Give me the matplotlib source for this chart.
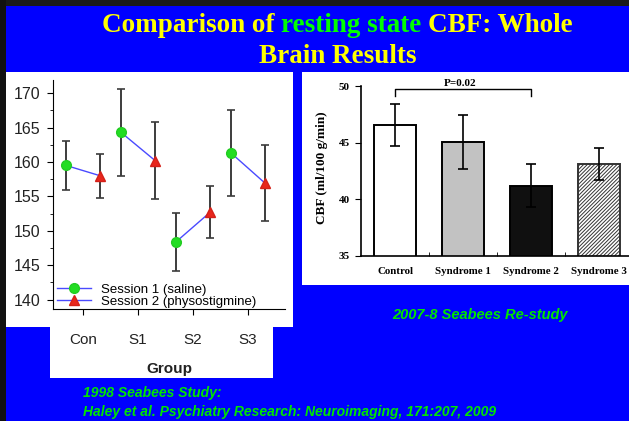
import matplotlib
matplotlib.use("Agg")
import matplotlib.pyplot as plt
from matplotlib.patches import Rectangle
from matplotlib.lines import Line2D
from matplotlib.ticker import MultipleLocator, FixedLocator

# 1998 study: group means (+/- error) for the two sessions
groups = ["Con", "S1", "S2", "S3"]
saline_mean = [159.5, 164.3, 148.4, 161.3]
saline_err = [3.5, 6.3, 4.2, 6.2]
physo_mean = [158.0, 160.2, 152.7, 156.9]
physo_err = [3.2, 5.6, 3.8, 5.5]

# 2007-8 re-study: whole brain CBF per group
bar_labels = ["Control", "Syndrome 1", "Syndrome 2", "Syndrome 3"]
cbf_mean = [46.6, 45.05, 41.2, 43.1]
cbf_err = [1.85, 2.4, 1.9, 1.45]
p_label = "P=0.02"

W, H = 629, 421
BLUE = "#0000ff"
YELLOW = "#ffff00"
GREEN = "#00ff00"
SANS = "Liberation Sans"
SERIF = "Liberation Serif"
plt.rcParams["hatch.linewidth"] = 0.7


def box(x0, y0, x1, y1):
    # pixel box (top-left origin) -> figure fraction [l, b, w, h]
    return [x0 / W, 1 - y1 / H, (x1 - x0) / W, (y1 - y0) / H]


def rect(x0, y0, x1, y1, color):
    l, b, w, h = box(x0, y0, x1, y1)
    fig.add_artist(Rectangle((l, b), w, h, transform=fig.transFigure,
                             facecolor=color, edgecolor="none", zorder=-5))


fig = plt.figure(figsize=(W / 100, H / 100), dpi=100, facecolor=BLUE)

# slide frame and white picture areas
rect(0, 0, W, 6, "#1a1a1a")
rect(0, 0, 6, H, "#111111")
rect(6, 72, 293, 327, "white")
rect(50, 327, 273, 378, "white")
rect(302, 72, W, 285, "white")

# title, with the middle words in green
r = fig.canvas.get_renderer()
parts = [("Comparison of", YELLOW), ("resting state", GREEN), ("CBF: Whole", YELLOW)]
tfont = dict(family=SERIF, weight="bold", fontsize=19.5)
gap = 0.25 * 19.5 * 100 / 72
pieces = [fig.text(0, 1 - 32 / H, s, color=c, va="baseline", **tfont) for s, c in parts]
widths = [t.get_window_extent(r).width for t in pieces]
x = 337.5 - (sum(widths) + gap * (len(widths) - 1)) / 2
for t, w in zip(pieces, widths):
    t.set_x(x / W)
    x += w + gap
fig.text(337.5 / W, 1 - 63 / H, "Brain Results", color=YELLOW, ha="center",
         va="baseline", **tfont)

# left chart: session means per group
ax1 = fig.add_axes(box(53, 80, 285, 309))
ax1.set_facecolor("none")
off = 0.31
for i in range(len(groups)):
    ax1.plot([i - off, i + off], [saline_mean[i], physo_mean[i]],
             color="#4a4aff", lw=1, zorder=2)
    ax1.errorbar(i - off, saline_mean[i], yerr=saline_err[i], fmt="none",
                 ecolor="#3c3c3c", elinewidth=1.4, capsize=3, capthick=1.2, zorder=1)
    ax1.errorbar(i + off, physo_mean[i], yerr=physo_err[i], fmt="none",
                 ecolor="#3c3c3c", elinewidth=1.4, capsize=3, capthick=1.2, zorder=1)
    ax1.plot(i - off, saline_mean[i], "o", ms=7, mfc="#22dd22", mec="#22cc22", zorder=3)
    ax1.plot(i + off, physo_mean[i], "^", ms=7, mfc="#e8261c", mec="#d42018", zorder=3)

ax1.set_xlim(-0.545, 3.67)
ax1.set_ylim(138.65, 171.9)
ax1.set_xticks(range(len(groups)))
ax1.set_xticklabels(groups, family=SANS, fontsize=11, color="#222222")
ax1.yaxis.set_major_locator(MultipleLocator(5))
ax1.yaxis.set_minor_locator(MultipleLocator(2.5))
ax1.set_yticks(range(140, 171, 5))
ax1.set_yticklabels([str(v) for v in range(140, 171, 5)], family=SANS,
                    fontsize=11.5, color="#222222")
ax1.tick_params(axis="x", length=4, pad=13)
ax1.tick_params(axis="y", which="major", length=4, pad=5)
ax1.tick_params(axis="y", which="minor", length=2.5)
for s in ["top", "right"]:
    ax1.spines[s].set_visible(False)
ax1.set_xlabel("Group", family=SANS, weight="bold", fontsize=11, labelpad=11,
               color="#222222")

handles = [
    Line2D([], [], color="#4a4aff", lw=1, marker="o", ms=7,
           mfc="#22dd22", mec="#22cc22"),
    Line2D([], [], color="#4a4aff", lw=1, marker="^", ms=7,
           mfc="#e8261c", mec="#d42018"),
]
ax1.legend(handles, ["Session 1 (saline)", "Session 2 (physostigmine)"],
           loc="lower left", bbox_to_anchor=(57 / W, 1 - 308 / H),
           bbox_transform=fig.transFigure, frameon=False, borderpad=0,
           borderaxespad=0, handlelength=2.6, handletextpad=0.75,
           labelspacing=0.0, prop=dict(family=SANS, size=9.5))

# right chart: CBF bars
ax2 = fig.add_axes(box(361, 86.3, 629, 255.5))
ax2.set_facecolor("none")
pos = list(range(len(bar_labels)))
faces = ["white", "#c2c2c2", "#101010", "white"]
hatches = [None, None, None, "/////////"]
bars = ax2.bar(pos, cbf_mean, width=0.61, color=faces, edgecolor="black",
               linewidth=1.4, zorder=2)
for b, h in zip(bars, hatches):
    if h:
        b.set_hatch(h)
        b.set_edgecolor("#333333")
ax2.errorbar(pos, cbf_mean, yerr=cbf_err, fmt="none", ecolor="black",
             elinewidth=1.2, capsize=3.5, capthick=1.2, zorder=3)
ax2.set_xlim(-0.5, 3.44)
ax2.set_ylim(35, 50)
ax2.set_xticks(pos)
ax2.set_xticklabels(bar_labels, family=SERIF, weight="bold", fontsize=7.8)
ax2.xaxis.set_minor_locator(FixedLocator([0.5, 1.5, 2.5]))
ax2.tick_params(axis="x", which="major", length=0, pad=8)
ax2.tick_params(axis="x", which="minor", direction="in", length=3)
ax2.set_yticks([35, 40, 45, 50])
ax2.set_yticklabels(["35", "40", "45", "50"], family=SERIF, weight="bold", fontsize=8)
ax2.tick_params(axis="y", length=4, pad=4)
for s in ["top", "right"]:
    ax2.spines[s].set_visible(False)
ax2.spines["left"].set_linewidth(1.2)
ax2.spines["bottom"].set_linewidth(1.2)
ax2.set_ylabel("CBF (ml/100 g/min)", family=SERIF, weight="bold", fontsize=9.5)
ax2.yaxis.set_label_coords(-0.123, 0.52)

ax2.plot([0, 0, 2, 2], [49.15, 49.73, 49.73, 49.15], color="black", lw=1,
         clip_on=False)
ax2.text(0.96, 49.85, p_label, ha="center", va="bottom", family=SERIF,
         weight="bold", fontsize=8, clip_on=False)

# study captions
cap = dict(family=SANS, weight="bold", style="italic", color="#00e600")
fig.text(392 / W, 1 - 315 / H, "2007-8 Seabees Re-study", va="center",
         fontsize=10.5, **cap)
fig.text(83 / W, 1 - 393 / H, "1998 Seabees Study:", va="center", fontsize=10, **cap)
fig.text(83 / W, 1 - 412 / H,
         "Haley et al. Psychiatry Research: Neuroimaging, 171:207, 2009",
         va="center", fontsize=10, **cap)

fig.savefig("out.png", dpi=100, facecolor=BLUE)
